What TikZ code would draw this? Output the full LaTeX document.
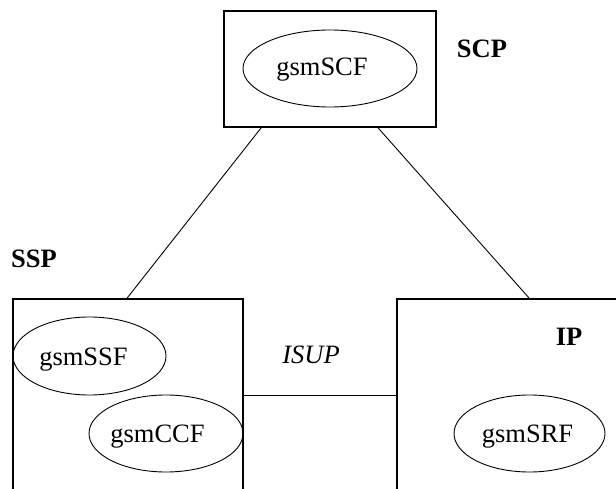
\documentclass[tikz,border=0pt]{standalone}
\usepackage{fontspec}
\setmainfont{Liberation Serif}
\usetikzlibrary{shapes.geometric}
\begin{document}
\begin{tikzpicture}[x=1pt,y=-1pt,
  box/.style={draw,line width=1.8pt,rectangle,inner sep=0pt},
  func/.style={draw,line width=0.9pt,ellipse,inner sep=0pt},
  ftext/.style={font=\fontsize{26.5}{30}\selectfont,anchor=base,inner sep=0pt},
  tag/.style={font=\fontsize{26.5}{30}\selectfont\bfseries,anchor=base,inner sep=0pt},
  link/.style={line width=0.9pt}]
\path[use as bounding box,clip] (0,0) rectangle (616,489);
% boxes
\node[box,minimum width=212pt,minimum height=116pt] (scp) at (330,69) {};
\node[box,minimum width=230pt,minimum height=221pt] (ssp) at (128,409.5) {};
\node[box,minimum width=243pt,minimum height=221pt] (ip) at (518.5,409.5) {};
% ellipses
\node[func,minimum width=174pt,minimum height=77pt] (scf) at (330,68.5) {};
\node[func,minimum width=153pt,minimum height=78pt] (ssf) at (89.5,356) {};
\node[func,minimum width=154pt,minimum height=77pt] (ccf) at (166,433.5) {};
\node[func,minimum width=151pt,minimum height=77pt] (srf) at (529.5,433.5) {};
% ellipse texts
\node[ftext] (tscf) at (322,76) {gsmSCF};
\node[ftext] (tssf) at (83.5,365) {gsmSSF};
\node[ftext] (tccf) at (157.5,442) {gsmCCF};
\node[ftext] (tsrf) at (527.5,442) {gsmSRF};
% labels
\node[tag] (lscp) at (482,58) {SCP};
\node[tag] (lssp) at (34,268) {SSP};
\node[tag] (lip) at (569,345) {IP};
\node[ftext,font=\fontsize{26.5}{30}\selectfont\itshape] (lisup) at (311,363) {ISUP};
% connectors
\draw[link] ([xshift=38pt]scp.south west) -- ([xshift=115pt]ssp.north west);
\draw[link] ([xshift=155pt]scp.south west) -- ([xshift=133pt]ip.north west);
\draw[link] ([yshift=-97pt]ssp.north east) -- ([yshift=-97pt]ip.north west);
\end{tikzpicture}
\end{document}
